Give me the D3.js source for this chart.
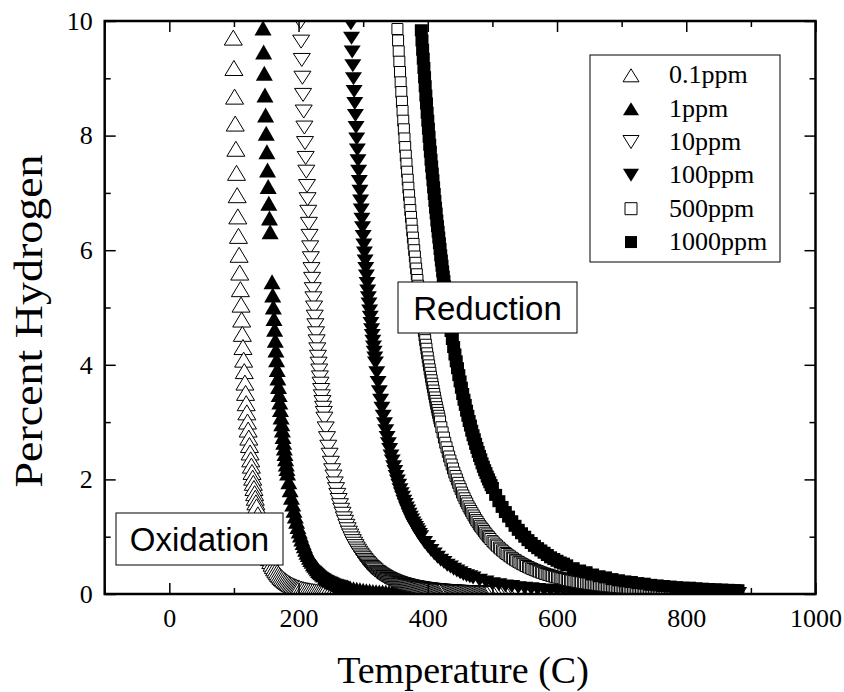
<!DOCTYPE html>
<html>
<head>
<meta charset="utf-8">
<script src="https://cdn.jsdelivr.net/npm/d3@7"></script>
<style>
body { margin: 0; background: #fff; }
svg text { font-family: "Liberation Serif", "Times New Roman", serif; fill: #000; }
.box text { font-family: "Liberation Sans", Arial, sans-serif; }
</style>
</head>
<body>
<script>
// Data ////////////////////////////////////////////////
// [temperature (C), percent hydrogen]
var seriesNames = ["0.1ppm", "1ppm", "10ppm", "100ppm", "500ppm", "1000ppm"];

var ppm01 = [[99,9.71],[100,9.18],[101,8.68],[102,8.21],[103,7.77],[104,7.35],[105,6.96],[106,6.59],[107,6.25],[108,5.92],[109,5.61],[110,5.32],[111,5.05],[112,4.79],[113,4.54],[114,4.31],[115,4.09],[116,3.89],[117,3.69],[118,3.51],[119,3.33],[120,3.17],[121,3.01],[122,2.87],[123,2.73],[124,2.60],[125,2.47],[126,2.35],[127,2.24],[128,2.13],[129,2.03],[130,1.94],[131,1.85],[132,1.76],[133,1.68],[134,1.60],[135,1.53],[137,1.39],[139,1.27],[141,1.16],[143,1.06],[145,0.97],[147,0.886],[149,0.811],[151,0.744],[153,0.682],[155,0.626],[157,0.575],[159,0.529],[161,0.487],[163,0.448],[165,0.413],[167,0.381],[169,0.352],[171,0.325],[173,0.300],[175,0.278],[177,0.257],[179,0.238],[181,0.221],[183,0.205],[185,0.190],[187,0.176],[189,0.164],[191,0.152],[193,0.142],[195,0.132],[197,0.123],[199,0.115],[201,0.107],[204,0.096],[207,0.087],[210,0.079],[213,0.071],[216,0.065],[219,0.059],[222,0.053],[225,0.048],[228,0.044],[231,0.040],[234,0.037],[237,0.034],[240,0.031],[244,0.027],[248,0.024],[252,0.022],[256,0.019],[260,0.017],[264,0.016],[268,0.014],[272,0.013],[276,0.011],[280,0.010],[290,0.01],[320,0],[360,0],[400,0],[450,0],[500,0],[550,0],[600,0],[650,0],[700,0],[750,0],[800,0],[850,0],[880,0]];

var ppm1 = [[145,9.88],[146,9.46],[147,9.09],[148,8.71],[149,8.36],[150,8.04],[151,7.72],[152,7.40],[153,7.11],[154,6.82],[155,6.56],[156,6.32],[159,5.45],[160,5.22],[161,5.01],[162,4.81],[163,4.62],[164,4.43],[165,4.26],[166,4.09],[167,3.92],[168,3.77],[169,3.62],[170,3.48],[171,3.35],[172,3.22],[173,3.09],[174,2.97],[175,2.86],[176,2.75],[177,2.65],[178,2.55],[179,2.45],[180,2.36],[181,2.27],[182,2.19],[183,2.11],[185,1.96],[187,1.82],[189,1.69],[191,1.57],[193,1.46],[195,1.36],[197,1.27],[199,1.18],[201,1.10],[203,1.03],[205,0.96],[207,0.90],[209,0.84],[211,0.78],[213,0.73],[215,0.69],[217,0.64],[219,0.60],[221,0.57],[223,0.53],[225,0.50],[227,0.47],[229,0.44],[231,0.41],[233,0.39],[235,0.37],[237,0.35],[239,0.33],[242,0.30],[244,0.28],[246,0.26],[248,0.25],[250,0.24],[252,0.22],[254,0.21],[256,0.20],[258,0.19],[260,0.18],[262,0.17],[264,0.16],[266,0.15],[268,0.14],[270,0.14],[272,0.13],[274,0.12],[276,0.12],[278,0.11],[280,0.105],[285,0.093],[290,0.082],[295,0.072],[300,0.064],[305,0.057],[310,0.051],[315,0.045],[320,0.041],[325,0.036],[330,0.033],[335,0.029],[340,0.026],[345,0.024],[350,0.022],[355,0.019],[360,0.018],[365,0.016],[370,0.015],[375,0.013],[380,0.012],[400,0.01],[440,0.01],[480,0.01],[520,0.01],[600,0],[700,0],[800,0],[880,0]];

var ppm10 = [[203,9.98],[204,9.64],[205,9.32],[206,9.01],[207,8.71],[208,8.42],[209,8.14],[210,7.87],[211,7.61],[212,7.37],[213,7.12],[214,6.89],[215,6.67],[216,6.46],[217,6.25],[218,6.05],[219,5.86],[220,5.67],[221,5.50],[222,5.32],[223,5.16],[224,5.00],[225,4.84],[226,4.69],[227,4.55],[228,4.41],[229,4.27],[230,4.14],[231,4.02],[232,3.90],[233,3.78],[234,3.67],[235,3.56],[236,3.45],[237,3.35],[238,3.25],[239,3.16],[240,3.06],[242,2.89],[244,2.72],[246,2.57],[248,2.43],[250,2.29],[252,2.16],[254,2.05],[256,1.93],[258,1.83],[260,1.73],[262,1.64],[264,1.55],[266,1.47],[268,1.40],[270,1.32],[272,1.26],[274,1.19],[276,1.13],[278,1.07],[280,1.02],[282,0.970],[284,0.922],[286,0.877],[288,0.835],[290,0.794],[292,0.756],[294,0.720],[296,0.686],[298,0.654],[300,0.624],[302,0.595],[304,0.568],[306,0.542],[308,0.517],[310,0.494],[312,0.472],[314,0.451],[316,0.431],[318,0.412],[321,0.386],[323,0.369],[325,0.353],[327,0.338],[329,0.324],[331,0.310],[333,0.297],[335,0.285],[337,0.273],[339,0.262],[341,0.252],[343,0.241],[345,0.232],[347,0.222],[349,0.214],[351,0.205],[353,0.197],[355,0.190],[357,0.182],[359,0.175],[361,0.169],[363,0.162],[365,0.156],[367,0.150],[369,0.145],[371,0.139],[373,0.134],[375,0.129],[377,0.124],[379,0.120],[381,0.116],[383,0.112],[385,0.108],[387,0.104],[389,0.100],[391,0.097],[393,0.093],[395,0.090],[397,0.087],[399,0.084],[401,0.081],[403,0.078],[405,0.076],[407,0.073],[409,0.071],[411,0.069],[413,0.066],[415,0.064],[417,0.062],[419,0.060],[421,0.058],[423,0.056],[425,0.055],[427,0.053],[429,0.051],[432,0.049],[434,0.047],[436,0.046],[438,0.045],[440,0.043],[442,0.042],[444,0.041],[446,0.039],[448,0.038],[450,0.037],[452,0.036],[454,0.035],[456,0.034],[458,0.033],[460,0.032],[462,0.031],[464,0.030],[466,0.029],[468,0.029],[470,0.028],[472,0.027],[474,0.026],[476,0.026],[478,0.025],[480,0.024],[482,0.024],[484,0.023],[486,0.022],[488,0.022],[490,0.021],[492,0.021],[494,0.020],[496,0.020],[498,0.019],[500,0.019],[505,0.017],[510,0.016],[515,0.015],[520,0.014],[525,0.014],[530,0.013],[535,0.012],[540,0.011],[560,0.01],[600,0.01],[650,0.01],[700,0],[750,0],[800,0],[850,0],[880,0]];

var ppm100 = [[281,9.95],[282,9.70],[283,9.46],[284,9.22],[285,8.99],[286,8.77],[287,8.56],[288,8.35],[289,8.14],[290,7.94],[291,7.75],[292,7.56],[293,7.38],[294,7.20],[295,7.03],[296,6.86],[297,6.70],[298,6.54],[299,6.39],[300,6.24],[301,6.09],[302,5.95],[303,5.81],[304,5.68],[305,5.55],[306,5.42],[307,5.29],[308,5.17],[309,5.06],[310,4.94],[311,4.83],[312,4.72],[313,4.61],[314,4.51],[315,4.41],[316,4.31],[317,4.22],[318,4.12],[319,4.03],[321,3.86],[323,3.69],[325,3.53],[327,3.38],[329,3.24],[331,3.10],[333,2.97],[335,2.85],[337,2.73],[339,2.62],[341,2.52],[343,2.41],[345,2.32],[347,2.22],[349,2.14],[351,2.05],[353,1.97],[355,1.90],[357,1.82],[359,1.75],[361,1.69],[363,1.62],[365,1.56],[367,1.50],[369,1.45],[371,1.39],[373,1.34],[375,1.29],[377,1.24],[379,1.20],[381,1.16],[383,1.12],[385,1.08],[387,1.04],[389,1.00],[395,0.90],[400,0.83],[405,0.76],[410,0.70],[415,0.64],[420,0.59],[425,0.55],[430,0.50],[435,0.47],[440,0.43],[445,0.40],[450,0.37],[455,0.34],[460,0.32],[465,0.30],[470,0.28],[480,0.24],[490,0.21],[500,0.18],[510,0.16],[520,0.14],[530,0.13],[540,0.11],[550,0.10],[560,0.09],[570,0.08],[580,0.07],[590,0.06],[600,0.06],[610,0.053],[620,0.048],[630,0.043],[640,0.039],[650,0.036],[660,0.033],[670,0.030],[680,0.027],[690,0.025],[700,0.023],[710,0.021],[720,0.020],[730,0.018],[740,0.017],[750,0.016],[760,0.015],[770,0.014],[780,0.013],[790,0.012],[800,0.011],[810,0.010],[820,0.010],[830,0.009],[840,0.008],[850,0.008],[860,0.007],[870,0.007],[880,0.007]];

var ppm500 = [[353,9.86],[354,9.66],[355,9.47],[356,9.29],[357,9.11],[358,8.93],[359,8.76],[360,8.59],[361,8.43],[362,8.26],[363,8.11],[364,7.95],[365,7.80],[366,7.65],[367,7.51],[368,7.37],[369,7.23],[370,7.09],[371,6.96],[372,6.83],[373,6.70],[374,6.58],[375,6.46],[376,6.34],[377,6.22],[378,6.11],[379,6.00],[380,5.89],[381,5.78],[382,5.68],[383,5.58],[384,5.48],[385,5.38],[386,5.28],[387,5.19],[388,5.10],[389,5.01],[390,4.92],[391,4.83],[392,4.75],[393,4.67],[394,4.59],[395,4.51],[396,4.43],[397,4.35],[398,4.28],[399,4.20],[400,4.13],[401,4.06],[402,3.99],[403,3.92],[404,3.86],[405,3.79],[406,3.73],[407,3.67],[408,3.61],[409,3.55],[410,3.49],[411,3.43],[412,3.37],[413,3.32],[414,3.26],[415,3.21],[416,3.16],[417,3.11],[418,3.06],[419,3.01],[421,2.91],[423,2.82],[425,2.73],[427,2.64],[429,2.56],[431,2.48],[433,2.40],[435,2.33],[437,2.26],[439,2.19],[441,2.12],[443,2.06],[445,2.00],[447,1.94],[449,1.88],[451,1.83],[453,1.77],[455,1.72],[457,1.67],[459,1.62],[461,1.58],[463,1.53],[465,1.49],[467,1.45],[469,1.41],[471,1.37],[473,1.33],[475,1.29],[477,1.26],[479,1.22],[481,1.19],[483,1.16],[485,1.13],[487,1.10],[489,1.07],[491,1.04],[493,1.01],[495,0.99],[497,0.960],[500,0.923],[502,0.899],[505,0.865],[507,0.843],[510,0.811],[512,0.791],[515,0.762],[517,0.743],[520,0.716],[522,0.698],[525,0.673],[527,0.657],[530,0.633],[532,0.618],[535,0.596],[537,0.582],[540,0.562],[542,0.549],[545,0.530],[547,0.518],[550,0.500],[552,0.489],[555,0.472],[557,0.462],[560,0.446],[562,0.436],[565,0.422],[567,0.413],[570,0.399],[572,0.391],[575,0.378],[577,0.370],[580,0.358],[582,0.351],[585,0.340],[587,0.333],[590,0.322],[592,0.316],[595,0.306],[597,0.300],[600,0.291],[602,0.285],[605,0.276],[607,0.271],[610,0.263],[612,0.258],[615,0.250],[617,0.245],[620,0.238],[622,0.233],[625,0.227],[627,0.222],[630,0.216],[632,0.212],[635,0.206],[637,0.202],[640,0.197],[642,0.193],[645,0.188],[647.5,0.1835],[650,0.179],[652.5,0.175],[655,0.171],[657.5,0.1675],[660,0.164],[662.5,0.1605],[665,0.157],[667.5,0.1535],[670,0.150],[672.5,0.1465],[675,0.143],[677.5,0.140],[680,0.137],[682.5,0.1345],[685,0.132],[687.5,0.129],[690,0.126],[692.5,0.1235],[695,0.121],[697.5,0.1185],[700,0.116],[702.5,0.1135],[705,0.111],[707.5,0.109],[710,0.107],[712.5,0.105],[715,0.103],[717.5,0.101],[720,0.099],[722.5,0.097],[725,0.095],[727.5,0.093],[730,0.091],[732.5,0.0895],[735,0.088],[737.5,0.0865],[740,0.085],[742.5,0.083],[745,0.081],[747.5,0.0795],[750,0.078],[752.5,0.077],[755,0.076],[757.5,0.0745],[760,0.073],[762.5,0.0715],[765,0.070],[767.5,0.069],[770,0.068],[772.5,0.0665],[775,0.065],[777.5,0.064],[780,0.063],[782.5,0.062],[785,0.061],[787.5,0.060],[790,0.059],[792.5,0.058],[795,0.057],[797.5,0.056],[800,0.055],[802.5,0.054],[805,0.053],[807.5,0.052],[810,0.051],[812.5,0.0505],[815,0.050],[817.5,0.049],[820,0.048],[822.5,0.0475],[825,0.047],[827.5,0.046],[830,0.045],[832.5,0.0445],[835,0.044],[837.5,0.043],[840,0.042],[842.5,0.0415],[845,0.041],[847.5,0.0405],[850,0.040],[852.5,0.0395],[855,0.039],[857.5,0.038],[860,0.037],[862.5,0.0365],[865,0.036],[867.5,0.0355],[870,0.035],[872.5,0.0345],[875,0.034],[877.5,0.0335],[880,0.033]];

var ppm1000 = [[390,9.84],[391,9.66],[392,9.50],[393,9.34],[394,9.18],[395,9.02],[396,8.86],[397,8.70],[398,8.56],[399,8.40],[400,8.26],[401,8.12],[402,7.98],[403,7.84],[404,7.72],[405,7.58],[406,7.46],[407,7.34],[408,7.22],[409,7.10],[410,6.98],[411,6.86],[412,6.74],[413,6.64],[414,6.52],[415,6.42],[416,6.32],[417,6.22],[418,6.12],[419,6.02],[420,5.91],[421,5.82],[422,5.73],[423,5.63],[424,5.54],[425,5.46],[426,5.37],[427,5.29],[428,5.20],[429,5.12],[430,5.04],[432,4.88],[434,4.73],[436,4.59],[438,4.45],[440,4.31],[442,4.18],[444,4.06],[446,3.94],[448,3.82],[450,3.71],[452,3.60],[454,3.49],[456,3.39],[458,3.30],[460,3.20],[462,3.11],[464,3.02],[466,2.94],[468,2.85],[470,2.77],[472,2.70],[474,2.62],[476,2.55],[478,2.48],[480,2.41],[482,2.35],[484,2.28],[486,2.22],[488,2.16],[490,2.11],[492,2.05],[494,2.00],[496,1.95],[498,1.90],[500,1.85],[505,1.73],[510,1.62],[515,1.52],[520,1.43],[525,1.35],[530,1.27],[535,1.19],[540,1.12],[545,1.06],[550,1.00],[555,0.94],[560,0.89],[565,0.84],[570,0.80],[575,0.76],[580,0.72],[585,0.68],[590,0.64],[595,0.61],[600,0.58],[605,0.55],[610,0.53],[615,0.50],[625,0.45],[635,0.41],[645,0.38],[655,0.34],[665,0.31],[675,0.29],[685,0.26],[695,0.24],[705,0.22],[715,0.21],[725,0.19],[735,0.18],[745,0.16],[755,0.15],[765,0.14],[775,0.13],[785,0.12],[795,0.11],[805,0.11],[815,0.10],[825,0.093],[835,0.087],[845,0.082],[855,0.077],[865,0.073],[875,0.068],[880,0.066]];

var xMajorTicks = [0, 200, 400, 600, 800, 1000];
var xMinorTicks = [-100, 100, 300, 500, 700, 900];
var yMajorTicks = [0, 2, 4, 6, 8, 10];
var yMinorTicks = [1, 3, 5, 7, 9];

// Marker styles ////////////////////////////////////////
var allSeries = [ppm01, ppm1, ppm10, ppm100, ppm500, ppm1000];
var markerShape = ["up", "up", "down", "down", "square", "square"];
var markerFilled = [false, true, false, true, false, true];
var markerSize = [[18, 15], [17, 15], [17, 13], [17, 13], [11, 11], [13, 12]];
var legendSize = [[16, 13], [16, 13], [16, 13], [16, 13], [12, 12], [12, 12]];

var serif = "'Liberation Serif', 'Times New Roman', serif";

// SVG + Graph Setup ////////////////////////////////////
var width = 844, height = 692;
var plot = {left: 104.7, right: 815.5, top: 21, bottom: 594};

var svg = d3.select("body")
	.append("svg")
		.attr("width", width)
		.attr("height", height);

var xScale = d3.scaleLinear()
	.domain([-100, 1000])
	.range([plot.left, plot.right]);

var yScale = d3.scaleLinear()
	.domain([0, 10])
	.range([plot.bottom, plot.top]);

svg.append("clipPath")
	.attr("id", "plotclip")
	.append("rect")
		.attr("x", plot.left)
		.attr("y", plot.top)
		.attr("width", plot.right - plot.left)
		.attr("height", plot.bottom - plot.top);

function markerPath(shape, w, h)
{
	if (shape === "up")
		return "M0," + (-h / 2) + "L" + (w / 2) + "," + (h / 2) + "L" + (-w / 2) + "," + (h / 2) + "Z";
	if (shape === "down")
		return "M0," + (h / 2) + "L" + (w / 2) + "," + (-h / 2) + "L" + (-w / 2) + "," + (-h / 2) + "Z";
	return "M" + (-w / 2) + "," + (-h / 2) + "h" + w + "v" + h + "h" + (-w) + "Z";
}

// Data markers /////////////////////////////////////////
var dataLayer = svg.append("g").attr("clip-path", "url(#plotclip)");

allSeries.forEach(function(data, i)
{
	var sz = markerSize[i];
	dataLayer.append("g")
		.selectAll("path")
		.data(data)
		.enter()
		.append("path")
			.attr("d", markerPath(markerShape[i], sz[0], sz[1]))
			.attr("transform", function(d) { return "translate(" + xScale(d[0]) + "," + yScale(d[1]) + ")"; })
			.attr("fill", markerFilled[i] ? "#000" : "#fff")
			.attr("stroke", "#000")
			.attr("stroke-width", markerFilled[i] ? 0 : 1);
});

// Annotation boxes /////////////////////////////////////
function addBox(x0, y0, w, h, label, baseline)
{
	var g = svg.append("g").attr("class", "box");
	g.append("rect")
		.attr("x", x0).attr("y", y0)
		.attr("width", w).attr("height", h)
		.attr("fill", "#fff")
		.attr("stroke", "#000")
		.attr("stroke-width", 1);
	g.append("text")
		.attr("x", x0 + w / 2)
		.attr("y", baseline)
		.attr("text-anchor", "middle")
		.attr("font-size", 33)
		.text(label);
}
addBox(116, 513, 167, 52, "Oxidation", 551);
addBox(398, 282, 179, 51, "Reduction", 320);

// Legend ///////////////////////////////////////////////
var legend = svg.append("g");
legend.append("rect")
	.attr("x", 590).attr("y", 55)
	.attr("width", 190).attr("height", 207)
	.attr("fill", "#fff")
	.attr("stroke", "#000")
	.attr("stroke-width", 1);

seriesNames.forEach(function(name, i)
{
	var base = 83.3 + i * 33.35;
	var sz = legendSize[i];
	legend.append("path")
		.attr("d", markerPath(markerShape[i], sz[0], sz[1]))
		.attr("transform", "translate(631," + (base - 8) + ")")
		.attr("fill", markerFilled[i] ? "#000" : "#fff")
		.attr("stroke", "#000")
		.attr("stroke-width", markerFilled[i] ? 0 : 1);
	legend.append("text")
		.attr("x", 669)
		.attr("y", base)
		.style("font-family", serif)
		.style("font-size", "26px")
		.text(name);
});

// Axes /////////////////////////////////////////////////
function styleAxis(g)
{
	g.attr("font-family", serif).attr("font-size", 26);
	g.select(".domain").remove();
	g.selectAll(".tick line").attr("stroke", "#000").attr("stroke-width", 1.5);
	g.selectAll(".tick text")
		.attr("fill", "#000")
		.style("font-family", serif)
		.style("font-size", "26px");
}

svg.append("g")
	.attr("transform", "translate(0," + plot.bottom + ")")
	.call(d3.axisBottom(xScale).tickValues(xMajorTicks).tickSize(-11).tickPadding(14.5).tickFormat(d3.format("d")))
	.call(styleAxis);
svg.append("g")
	.attr("transform", "translate(0," + plot.bottom + ")")
	.call(d3.axisBottom(xScale).tickValues(xMinorTicks).tickSize(-6).tickFormat(""))
	.call(styleAxis);
svg.append("g")
	.attr("transform", "translate(0," + plot.top + ")")
	.call(d3.axisTop(xScale).tickValues(xMajorTicks).tickSize(-11).tickFormat(""))
	.call(styleAxis);
svg.append("g")
	.attr("transform", "translate(0," + plot.top + ")")
	.call(d3.axisTop(xScale).tickValues(xMinorTicks).tickSize(-6).tickFormat(""))
	.call(styleAxis);

svg.append("g")
	.attr("transform", "translate(" + plot.left + ",0)")
	.call(d3.axisLeft(yScale).tickValues(yMajorTicks).tickSize(-11).tickPadding(12).tickFormat(d3.format("d")))
	.call(styleAxis);
svg.append("g")
	.attr("transform", "translate(" + plot.left + ",0)")
	.call(d3.axisLeft(yScale).tickValues(yMinorTicks).tickSize(-6).tickFormat(""))
	.call(styleAxis);
svg.append("g")
	.attr("transform", "translate(" + plot.right + ",0)")
	.call(d3.axisRight(yScale).tickValues(yMajorTicks).tickSize(-11).tickFormat(""))
	.call(styleAxis);
svg.append("g")
	.attr("transform", "translate(" + plot.right + ",0)")
	.call(d3.axisRight(yScale).tickValues(yMinorTicks).tickSize(-6).tickFormat(""))
	.call(styleAxis);

// frame
svg.append("rect")
	.attr("x", plot.left).attr("y", plot.top)
	.attr("width", plot.right - plot.left)
	.attr("height", plot.bottom - plot.top)
	.attr("fill", "none")
	.attr("stroke", "#000")
	.attr("stroke-width", 2.5);

// Axis titles //////////////////////////////////////////
svg.append("text")
	.attr("x", 463)
	.attr("y", 683)
	.attr("text-anchor", "middle")
	.attr("font-size", 38)
	.text("Temperature (C)");

svg.append("text")
	.attr("transform", "translate(42,321) rotate(-90)")
	.attr("text-anchor", "middle")
	.attr("font-size", 40)
	.attr("textLength", 333)
	.attr("lengthAdjust", "spacingAndGlyphs")
	.text("Percent Hydrogen");
</script>
</body>
</html>
